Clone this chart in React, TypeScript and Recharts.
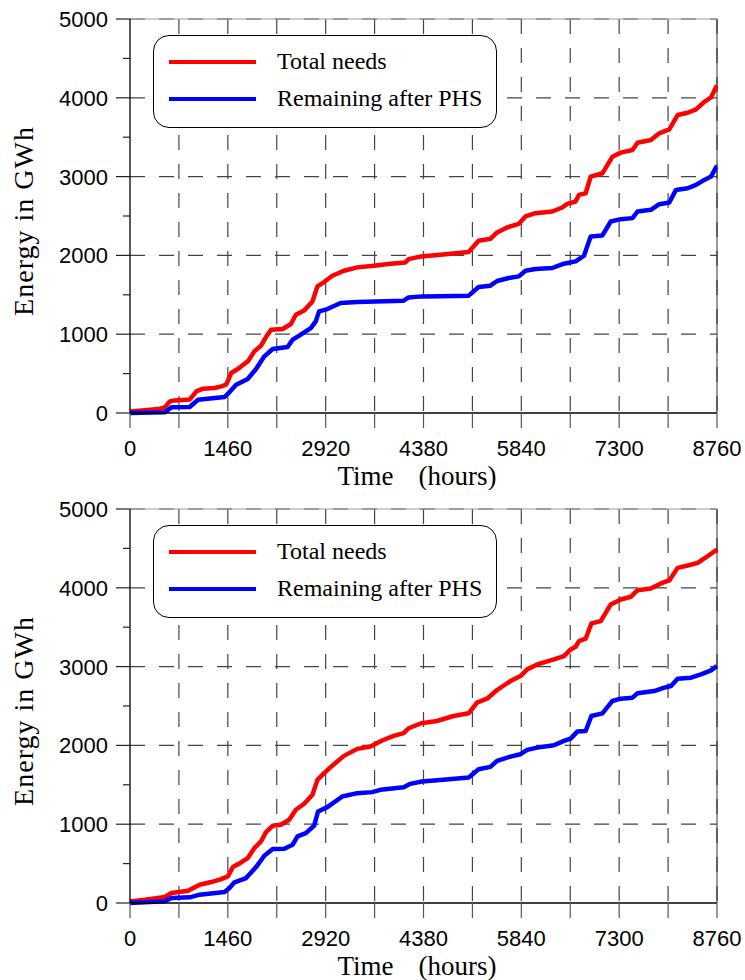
import React from "react"
import {
  LineChart,
  Line,
  XAxis,
  YAxis,
  CartesianGrid,
  Legend,
  Label,
  ReferenceLine,
} from "recharts"

// ---------------------------------------------------------------------------
// Data (cumulative energy, GWh, vs hour of the year)
// ---------------------------------------------------------------------------

const topNeedsHours = [
  0, 220, 420, 520, 594, 668, 890, 990, 1089, 1262, 1361, 1436, 1510, 1609, 1757,
  1856, 1955, 2030, 2104, 2277, 2401, 2475, 2599, 2723, 2797, 2896, 3020, 3193,
  3391, 3639, 3886, 4109, 4158, 4346, 4630, 5054, 5203, 5378, 5478, 5627, 5802,
  5902, 6052, 6301, 6451, 6526, 6650, 6700, 6800, 6875, 7050, 7200, 7324, 7499,
  7574, 7773, 7898, 8048, 8172, 8322, 8447, 8571, 8671, 8746, 8760,
]
const topNeedsGWh = [
  20, 35, 50, 72, 148, 160, 170, 275, 309, 317, 338, 359, 507, 558, 655,
  782, 854, 964, 1057, 1066, 1129, 1247, 1302, 1416, 1607, 1662, 1742, 1805,
  1848, 1869, 1894, 1911, 1953, 1987, 2008, 2042, 2186, 2211, 2291, 2354, 2401,
  2494, 2536, 2557, 2608, 2654, 2684, 2768, 2789, 3000, 3042, 3253, 3304, 3338,
  3430, 3464, 3549, 3599, 3781, 3810, 3852, 3949, 4004, 4139, 4150,
]

const topPhsHours = [
  0, 520, 619, 890, 1015, 1411, 1485, 1584, 1757, 1881, 2005, 2129, 2352, 2426,
  2525, 2698, 2772, 2822, 2945, 3143, 3391, 4084, 4158, 4356, 4630, 5054, 5203,
  5378, 5478, 5652, 5802, 5902, 6052, 6301, 6476, 6650, 6775, 6875, 7050, 7174,
  7324, 7499, 7574, 7773, 7898, 8048, 8147, 8322, 8447, 8571, 8671, 8746, 8760,
]
const topPhsGWh = [
  0, 8, 72, 76, 169, 203, 266, 359, 431, 558, 719, 812, 837, 930,
  981, 1078, 1163, 1290, 1319, 1395, 1408, 1425, 1467, 1480, 1482, 1489, 1599,
  1616, 1675, 1713, 1734, 1806, 1827, 1840, 1895, 1924, 1996, 2241, 2253, 2430,
  2460, 2473, 2557, 2578, 2650, 2671, 2831, 2852, 2895, 2958, 3000, 3118, 3125,
]

const bottomNeedsHours = [
  0, 223, 520, 619, 866, 1040, 1213, 1361, 1460, 1535, 1658, 1757, 1856, 1955,
  2030, 2129, 2252, 2376, 2475, 2599, 2723, 2797, 2896, 3044, 3193, 3391, 3589,
  3762, 3935, 4084, 4158, 4346, 4580, 4829, 5054, 5178, 5328, 5478, 5678, 5827,
  5927, 6077, 6326, 6476, 6576, 6650, 6700, 6800, 6885, 7025, 7174, 7324, 7474,
  7574, 7773, 7923, 8048, 8172, 8322, 8472, 8621, 8746, 8760,
]
const bottomNeedsGWh = [
  20, 42, 76, 127, 156, 232, 266, 304, 338, 456, 515, 570, 697, 782,
  900, 980, 993, 1056, 1183, 1259, 1373, 1563, 1648, 1762, 1867, 1956, 1986,
  2062, 2121, 2155, 2218, 2281, 2310, 2373, 2407, 2542, 2593, 2703, 2817, 2880,
  2965, 3028, 3092, 3134, 3218, 3252, 3324, 3354, 3548, 3577, 3789, 3852, 3886,
  3970, 3992, 4055, 4093, 4253, 4283, 4317, 4401, 4477, 4490,
]

const bottomPhsHours = [
  0, 520, 619, 890, 1040, 1411, 1485, 1559, 1733, 1881, 2005, 2129, 2302, 2426,
  2500, 2624, 2747, 2807, 2945, 3168, 3391, 3614, 3737, 4084, 4183, 4356, 4630,
  5054, 5203, 5378, 5478, 5678, 5827, 5927, 6077, 6326, 6476, 6576, 6675, 6800,
  6885, 7050, 7199, 7324, 7499, 7574, 7823, 7973, 8073, 8172, 8372, 8521, 8671,
  8746, 8760,
]
const bottomPhsGWh = [
  0, 21, 63, 72, 106, 139, 190, 262, 317, 456, 600, 684, 689, 739,
  845, 887, 980, 1162, 1217, 1352, 1394, 1407, 1436, 1470, 1512, 1542, 1562,
  1592, 1698, 1727, 1803, 1858, 1888, 1943, 1972, 2002, 2057, 2086, 2175, 2183,
  2373, 2407, 2564, 2593, 2606, 2661, 2690, 2733, 2754, 2847, 2859, 2902, 2952,
  2999, 3005,
]

const hourTicks = [0, 730, 1460, 2190, 2920, 3650, 4380, 5110, 5840, 6570, 7300, 8030, 8760]
const hourLabels = [0, 1460, 2920, 4380, 5840, 7300, 8760]
const energyTicks = [0, 500, 1000, 1500, 2000, 2500, 3000, 3500, 4000, 4500, 5000]
const energyLabels = [0, 1000, 2000, 3000, 4000, 5000]
const gridHours = [730, 1460, 2190, 2920, 3650, 4380, 5110, 5840, 6570, 7300, 8030, 8760]
const gridEnergy = [1000, 2000, 3000, 4000, 5000]

const SERIES_NAMES = ["Total needs", "Remaining after PHS"]

// ---------------------------------------------------------------------------
// Helpers
// ---------------------------------------------------------------------------

const SANS = "'Liberation Sans', Arial, sans-serif"
const SERIF = "'Liberation Serif', 'Times New Roman', serif"

const zip = (hours: number[], gwh: number[]) =>
  hours.map((h, i) => ({ h, gwh: gwh[i] }))

function HourTick({ x, y, payload }: any) {
  const v = payload.value
  return (
    <g>
      <line x1={x} y1={y} x2={x} y2={y + 15} stroke="#555" strokeWidth={1.2} />
      {hourLabels.includes(v) && (
        <text x={x} y={y + 43} textAnchor="middle" fontFamily={SANS} fontSize={22} fill="#000">
          {v}
        </text>
      )}
    </g>
  )
}

function EnergyTick({ x, y, payload }: any) {
  const v = payload.value
  const major = energyLabels.includes(v)
  return (
    <g>
      <line x1={x - (major ? 14 : 7)} y1={y} x2={x} y2={y} stroke="#222" strokeWidth={1.2} />
      {major && (
        <text x={x - 22} y={y + 8} textAnchor="end" fontFamily={SANS} fontSize={22} fill="#000">
          {v}
        </text>
      )}
    </g>
  )
}

function TimeTitle({ viewBox }: any) {
  const cx = viewBox.x + viewBox.width / 2
  const y = viewBox.y + 72
  return (
    <g fontFamily={SERIF} fontSize={27} fill="#000">
      <text x={cx - 30} y={y} textAnchor="end">Time</text>
      <text x={cx - 5} y={y} textAnchor="start">(hours)</text>
    </g>
  )
}

function EnergyTitle({ viewBox }: any) {
  const cy = viewBox.y + viewBox.height / 2 + 5
  return (
    <text
      x={33}
      y={cy}
      transform={`rotate(-90 33 ${cy})`}
      textAnchor="middle"
      fontFamily={SERIF}
      fontSize={28}
      letterSpacing={1}
      fill="#000"
    >
      Energy in GWh
    </text>
  )
}

function LegendBox({ payload }: any) {
  const items = [...(payload || [])].sort(
    (a: any, b: any) => SERIES_NAMES.indexOf(a.value) - SERIES_NAMES.indexOf(b.value)
  )
  return (
    <div
      style={{
        position: "relative",
        width: 344,
        height: 93,
        boxSizing: "border-box",
        border: "1px solid #000",
        borderRadius: 16,
        background: "#fff",
      }}
    >
      {items.map((entry: any, i: number) => (
        <React.Fragment key={entry.value}>
          <div
            style={{
              position: "absolute",
              left: 15,
              top: 24 + i * 37,
              width: 87,
              height: 4,
              background: entry.color,
            }}
          />
          <div
            style={{
              position: "absolute",
              left: 123,
              top: 10 + i * 37,
              fontFamily: SERIF,
              fontSize: 24,
              lineHeight: "30px",
              color: "#000",
              whiteSpace: "nowrap",
            }}
          >
            {entry.value}
          </div>
        </React.Fragment>
      ))}
    </div>
  )
}

// ---------------------------------------------------------------------------
// Panel
// ---------------------------------------------------------------------------

function EnergyPanel({ needs, phs }: { needs: { h: number; gwh: number }[]; phs: { h: number; gwh: number }[] }) {
  return (
    <LineChart width={745} height={490} margin={{ top: 19, right: 28, left: 0, bottom: 0 }}>
      <CartesianGrid
        horizontalValues={gridEnergy}
        verticalValues={gridHours}
        stroke="#444"
        strokeWidth={1.2}
        strokeDasharray="15 14"
      />
      <ReferenceLine x={8760} stroke="#333" strokeWidth={1} />
      <ReferenceLine y={5000} stroke="#999" strokeWidth={1} />

      <XAxis
        dataKey="h"
        type="number"
        domain={[0, 8760]}
        ticks={hourTicks}
        interval={0}
        height={77}
        tickSize={0}
        tickMargin={0}
        tickLine={false}
        tick={<HourTick />}
        axisLine={{ stroke: "#000", strokeWidth: 1.3 }}
      >
        <Label content={<TimeTitle />} />
      </XAxis>
      <YAxis
        type="number"
        domain={[0, 5000]}
        ticks={energyTicks}
        interval={0}
        width={130}
        tickSize={0}
        tickMargin={0}
        tickLine={false}
        tick={<EnergyTick />}
        axisLine={{ stroke: "#000", strokeWidth: 1.3 }}
      >
        <Label content={<EnergyTitle />} />
      </YAxis>

      <Legend
        layout="vertical"
        align="center"
        verticalAlign="middle"
        content={<LegendBox />}
        wrapperStyle={{ left: 153, top: 35, width: 344, height: 93 }}
      />

      <Line
        data={needs}
        dataKey="gwh"
        name={SERIES_NAMES[0]}
        type="linear"
        stroke="#ff0000"
        strokeWidth={4.5}
        strokeLinejoin="round"
        dot={false}
        isAnimationActive={false}
      />
      <Line
        data={phs}
        dataKey="gwh"
        name={SERIES_NAMES[1]}
        type="linear"
        stroke="#0000ff"
        strokeWidth={4.5}
        strokeLinejoin="round"
        dot={false}
        isAnimationActive={false}
      />
    </LineChart>
  )
}

export default function App() {
  return (
    <div style={{ position: "absolute", left: 0, top: 0, width: 745, height: 980, background: "#fff" }}>
      <EnergyPanel needs={zip(topNeedsHours, topNeedsGWh)} phs={zip(topPhsHours, topPhsGWh)} />
      <EnergyPanel needs={zip(bottomNeedsHours, bottomNeedsGWh)} phs={zip(bottomPhsHours, bottomPhsGWh)} />
    </div>
  )
}
